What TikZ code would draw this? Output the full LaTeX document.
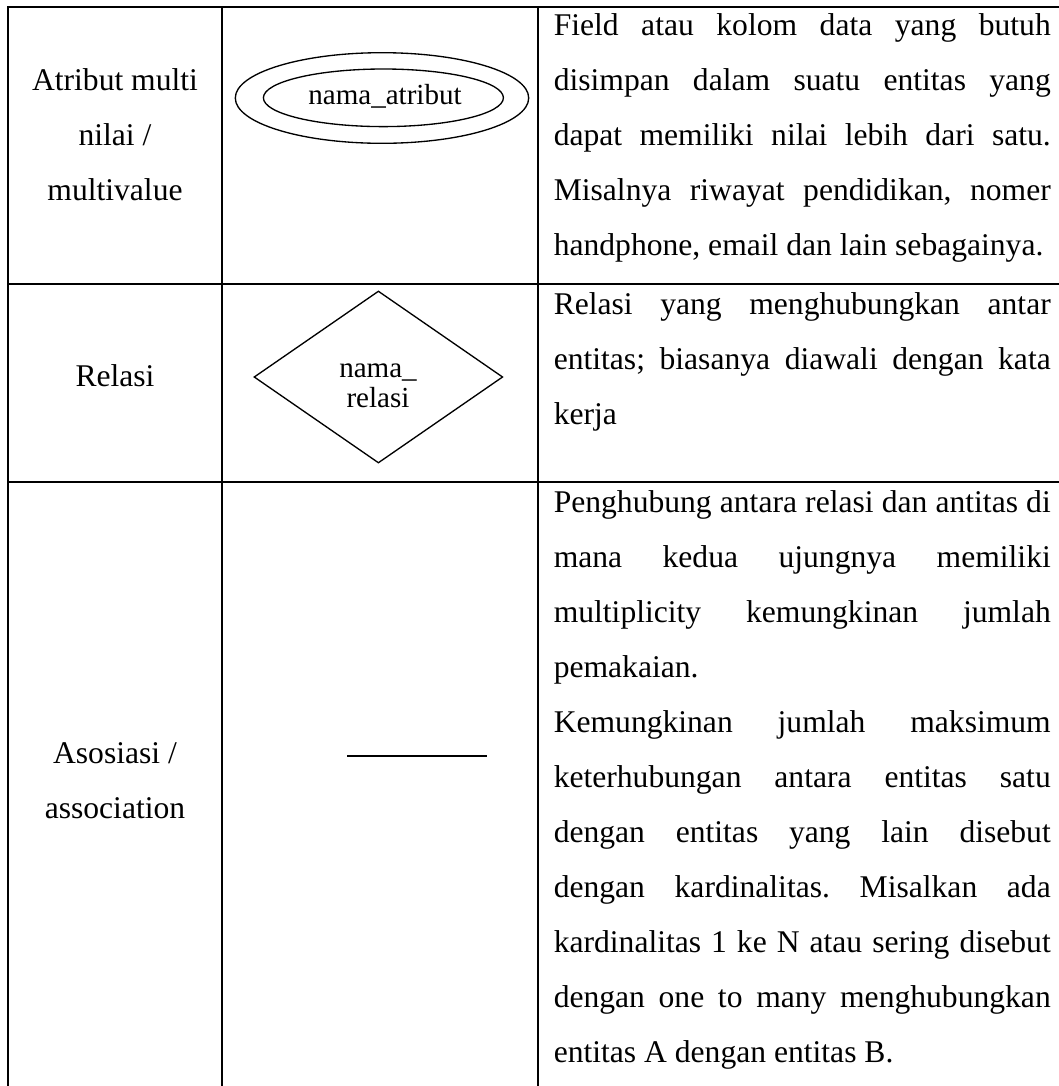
\documentclass[tikz,border=0pt]{standalone}
\usepackage{fontspec}
\setmainfont{Liberation Serif}
\usetikzlibrary{shapes.geometric}
\frenchspacing

% one drawing unit = one pixel of the final sheet
\newlength\pxu
\setlength\pxu{0.75pt}
\newcommand\bodyfont{\fontsize{23.7}{41.25}\selectfont}
\newcommand\shapefont{\fontsize{21.8}{22.5}\selectfont}
% a justified line of the description column
\newcommand\jl[1]{\makebox[\linewidth][s]{#1}}

\begin{document}
\begin{tikzpicture}[x=0.75pt,y=-0.75pt,
  gridline/.style={line width=1.5pt, line cap=rect},
  erline/.style={line width=1pt},
  celltext/.style={inner sep=0pt, anchor=base west},
  headtext/.style={inner sep=0pt, anchor=base}]
\useasboundingbox (0,0) rectangle (1059,1086);
\clip (0,0) rectangle (1059,1086);

% table rules
\coordinate (c0) at (8.3,6.7);
\coordinate (c1) at (222,6.7);
\coordinate (c2) at (538,6.7);
\draw[gridline] (c0) -- (1070,6.7);
\draw[gridline] (8.3,284) -- (1070,284);
\draw[gridline] (8.3,482) -- (1070,482);
\draw[gridline] (c0) -- (8.3,1100);
\draw[gridline] (c1) -- (222,1100);
\draw[gridline] (c2) -- (538,1100);

% row 1: multivalued attribute
\node[headtext] (h1) at (115,90.7) {\parbox[t]{200\pxu}{\centering\bodyfont
  Atribut multi\\nilai /\\multivalue}};
\node[draw, ellipse, erline, inner sep=0pt, minimum width=293.4\pxu,
  minimum height=90.6\pxu] (mvOuter) at (382,98) {};
\node[draw, ellipse, erline, inner sep=0pt, minimum width=240\pxu,
  minimum height=57.6\pxu] (mvInner) at (383.4,97.8) {};
\node[headtext, font=\shapefont] (mvText) at (385,104) {nama\_atribut};
\node[celltext] (d1) at (553.5,35.7) {\parbox[t]{497\pxu}{\bodyfont
  \jl{Field atau kolom data yang butuh}\\
  \jl{disimpan dalam suatu entitas yang}\\
  \jl{dapat memiliki nilai lebih dari satu.}\\
  \jl{Misalnya riwayat pendidikan, nomer}\\
  handphone, email dan lain sebagainya.}};

% row 2: relationship
\node[headtext] (h2) at (115,386) {\bodyfont Relasi};
\node[draw, diamond, erline, inner sep=0pt, minimum width=248.8\pxu,
  minimum height=172\pxu] (rel) at (378.4,377) {};
\node[headtext] (relText) at (378,377.5) {\parbox[t]{120\pxu}{\centering\shapefont
  nama\_\\relasi}};
\node[celltext] (d2) at (553.5,314) {\parbox[t]{497\pxu}{\bodyfont
  \jl{Relasi yang menghubungkan antar}\\
  \jl{entitas; biasanya diawali dengan kata}\\
  kerja}};

% row 3: association
\node[headtext] (h3) at (115,763.3) {\parbox[t]{200\pxu}{\centering\bodyfont
  Asosiasi /\\association}};
\coordinate (assocL) at (347,756);
\coordinate (assocR) at (487,756);
\draw[erline] (assocL) -- (assocR);
\node[celltext] (d3) at (553.5,512.5) {\parbox[t]{497\pxu}{\bodyfont
  \jl{Penghubung antara relasi dan antitas di}\\
  \jl{mana kedua ujungnya memiliki}\\
  \jl{multiplicity kemungkinan jumlah}\\
  pemakaian.\\
  \jl{Kemungkinan jumlah maksimum}\\
  \jl{keterhubungan antara entitas satu}\\
  \jl{dengan entitas yang lain disebut}\\
  \jl{dengan kardinalitas. Misalkan ada}\\
  \jl{kardinalitas 1 ke N atau sering disebut}\\
  \jl{dengan one to many menghubungkan}\\
  entitas A dengan entitas B.}};
\end{tikzpicture}
\end{document}
